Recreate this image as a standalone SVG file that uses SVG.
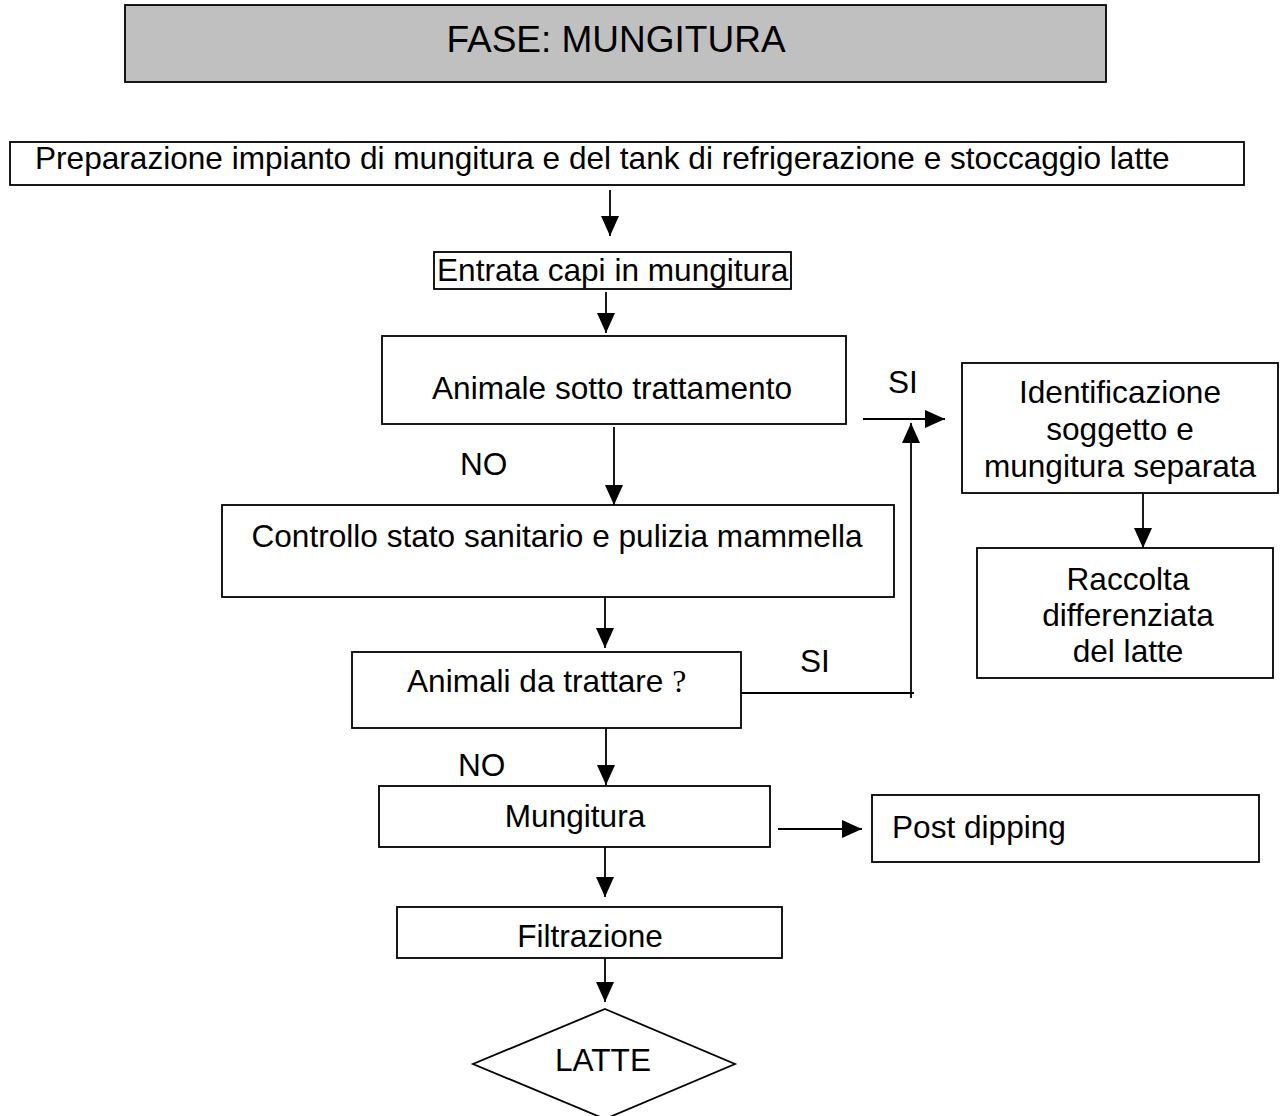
<svg xmlns="http://www.w3.org/2000/svg" width="1280" height="1116" viewBox="0 0 1280 1116">
<style>
.box{fill:#fff;stroke:#000;stroke-width:1.8}
.t{font-family:"Liberation Sans",Arial,sans-serif;font-size:31.6px;fill:#000}
.c{text-anchor:middle}
.ln{stroke:#000;stroke-width:1.8;fill:none}
</style>
<defs>
<marker id="ah" markerWidth="20" markerHeight="18" refX="20" refY="9" orient="auto" markerUnits="userSpaceOnUse">
<path d="M0,0 L20,9 L0,18 Z" fill="#000"/>
</marker>
</defs>
<rect width="1280" height="1116" fill="#fff"/>
<g id="title">
<rect x="125" y="5" width="981" height="77" fill="#c0c0c0" stroke="#000" stroke-width="1.8"/>
<text class="t c" x="616" y="52" style="font-size:37px">FASE: MUNGITURA</text>
</g>
<g id="preparazione">
<rect class="box" x="10" y="142" width="1234" height="43"/>
<text class="t" x="35" y="169">Preparazione impianto di mungitura e del tank di refrigerazione e stoccaggio latte</text>
</g>
<g id="entrata">
<rect class="box" x="434" y="252" width="357" height="37"/>
<text class="t" x="437" y="281">Entrata capi in mungitura</text>
</g>
<g id="animale">
<rect class="box" x="382" y="336" width="464" height="88"/>
<text class="t c" x="612" y="399">Animale sotto trattamento</text>
</g>
<g id="identificazione">
<rect class="box" x="962" y="363" width="316" height="130"/>
<text class="t c" x="1120" y="403">Identificazione</text>
<text class="t c" x="1120" y="440">soggetto e</text>
<text class="t c" x="1120" y="477">mungitura separata</text>
</g>
<g id="raccolta">
<rect class="box" x="977" y="548" width="296" height="130"/>
<text class="t c" x="1128" y="590">Raccolta</text>
<text class="t c" x="1128" y="626">differenziata</text>
<text class="t c" x="1128" y="662">del latte</text>
</g>
<g id="controllo">
<rect class="box" x="222" y="505" width="672" height="92"/>
<text class="t c" x="557" y="547">Controllo stato sanitario e pulizia mammella</text>
</g>
<g id="animali">
<rect class="box" x="352" y="652" width="389" height="76"/>
<text class="t" x="407" y="692">Animali da trattare <tspan style="font-family:'Liberation Serif',serif">?</tspan></text>
</g>
<g id="mungitura">
<rect class="box" x="379" y="786" width="391" height="61"/>
<text class="t c" x="575" y="827">Mungitura</text>
</g>
<g id="postdipping">
<rect class="box" x="872" y="795" width="387" height="67"/>
<text class="t" x="892" y="838">Post dipping</text>
</g>
<g id="filtrazione">
<rect class="box" x="397" y="907" width="385" height="51"/>
<text class="t c" x="590" y="947">Filtrazione</text>
</g>
<g id="latte">
<polygon class="box" points="605,1009 735,1064 605,1119 473,1064"/>
<text class="t c" x="603" y="1071">LATTE</text>
</g>
<g id="connectors">
<line class="ln" x1="610" y1="190" x2="610" y2="236" marker-end="url(#ah)"/>
<line class="ln" x1="606" y1="292" x2="606" y2="333" marker-end="url(#ah)"/>
<line class="ln" x1="614" y1="427" x2="614" y2="505" marker-end="url(#ah)"/>
<line class="ln" x1="863" y1="419" x2="945" y2="419" marker-end="url(#ah)"/>
<line class="ln" x1="911" y1="698" x2="911" y2="423" marker-end="url(#ah)"/>
<line class="ln" x1="741" y1="693" x2="914" y2="693"/>
<line class="ln" x1="1143" y1="493" x2="1143" y2="548" marker-end="url(#ah)"/>
<line class="ln" x1="605" y1="597" x2="605" y2="648" marker-end="url(#ah)"/>
<line class="ln" x1="606" y1="728" x2="606" y2="785" marker-end="url(#ah)"/>
<line class="ln" x1="778" y1="829" x2="862" y2="829" marker-end="url(#ah)"/>
<line class="ln" x1="605" y1="847" x2="605" y2="897" marker-end="url(#ah)"/>
<line class="ln" x1="605" y1="958" x2="605" y2="1002" marker-end="url(#ah)"/>
<text class="t" x="888" y="393">SI</text>
<text class="t" x="460" y="475">NO</text>
<text class="t" x="800" y="672">SI</text>
<text class="t" x="458" y="776">NO</text>
</g>
</svg>
